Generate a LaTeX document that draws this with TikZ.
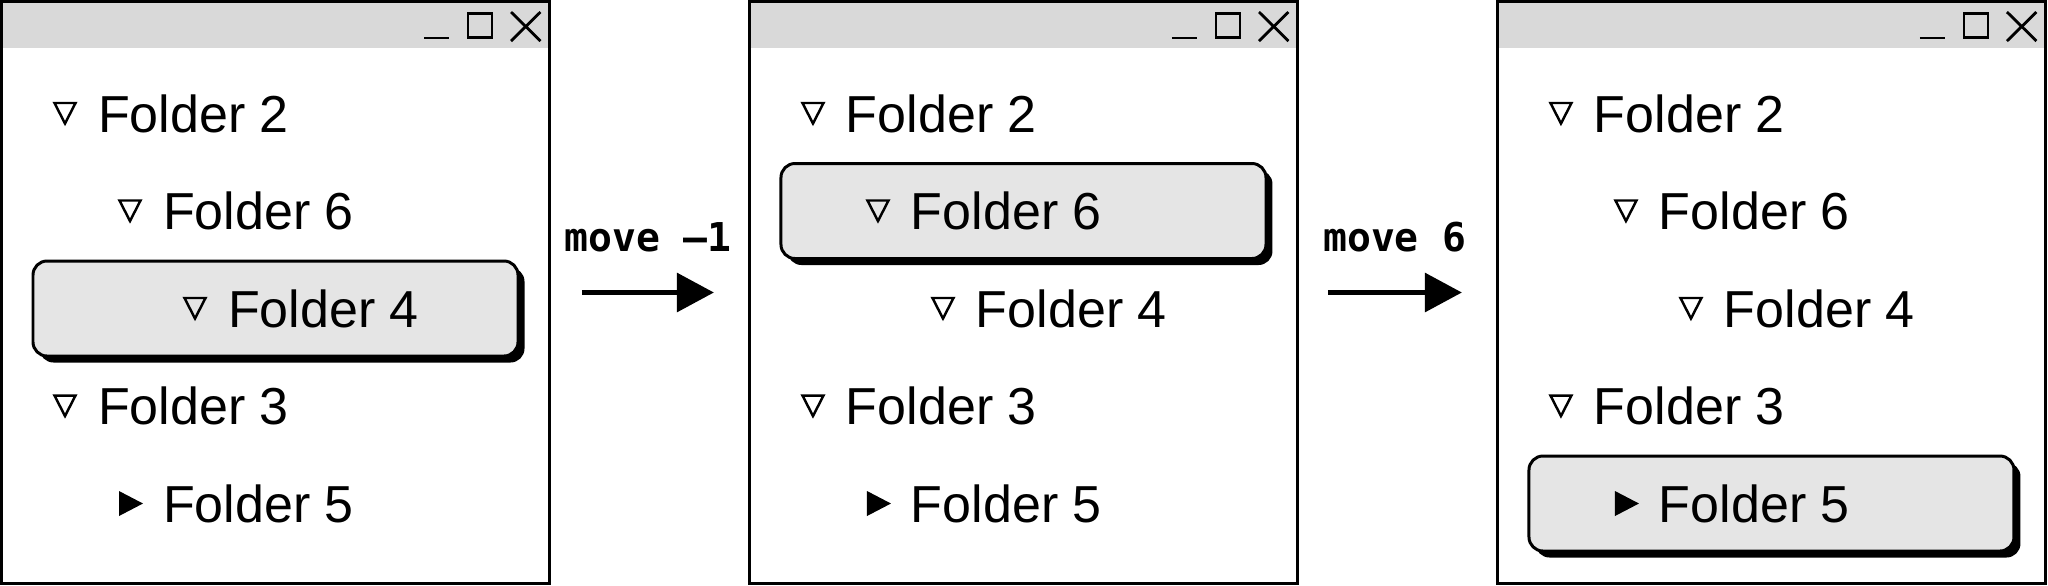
\documentclass[tikz,border=0pt]{standalone}
\usepackage{fontspec}
\setmainfont{Liberation Sans}
\setmonofont{DejaVu Sans Mono}
\usepackage{tikz}
\usetikzlibrary{positioning, arrows.meta, shadows, backgrounds}
\definecolor{barfill}{HTML}{D9D9D9}
\definecolor{selfill}{HTML}{E5E5E5}
\tikzstyle{window} = [rectangle, draw=black, line width=0.85pt, minimum width=5.48cm, minimum height=5.82cm, inner sep=0pt,
  path picture={
    \fill[barfill] (path picture bounding box.north west) rectangle ([yshift=-0.465cm]path picture bounding box.north east);
    \draw[line width=0.8pt] ([shift={(-1.255,-0.365)}]path picture bounding box.north east) -- ([shift={(-1.005,-0.365)}]path picture bounding box.north east);
    \draw[line width=0.8pt] ([shift={(-0.815,-0.12)}]path picture bounding box.north east) rectangle ([shift={(-0.575,-0.36)}]path picture bounding box.north east);
    \draw[line width=0.8pt] ([shift={(-0.385,-0.105)}]path picture bounding box.north east) -- ([shift={(-0.09,-0.395)}]path picture bounding box.north east)
      ([shift={(-0.385,-0.395)}]path picture bounding box.north east) -- ([shift={(-0.09,-0.105)}]path picture bounding box.north east);}]
\tikzstyle{item} = [anchor=west, inner sep=0pt, outer sep=0pt, font=\fontsize{14.8pt}{17pt}\selectfont]
\tikzstyle{selected} = [rectangle, rounded corners=0.14cm, draw=black, line width=0.85pt, fill=selfill, minimum width=4.85cm, minimum height=0.95cm, drop shadow={shadow xshift=0.065cm, shadow yshift=-0.065cm, fill=black, opacity=1}]
\tikzstyle{cmd} = [inner sep=0pt, font=\ttfamily\bfseries\fontsize{11.3pt}{13pt}\selectfont]
\tikzstyle{arrow} = [line width=1.7pt, -{Triangle[length=0.37cm, width=0.38cm]}]
\tikzset{
  open/.pic={\draw[line width=0.7pt, line join=miter] (-0.105,0.105) -- (0.105,0.105) -- (0,-0.1) -- cycle;},
  shut/.pic={\fill (-0.11,0.125) -- (0.13,0) -- (-0.11,-0.125) -- cycle;}
}

\begin{document}
\begin{tikzpicture}
\useasboundingbox (0,0) rectangle (20.48,-5.85);

% before
\node (win1) [window] at (2.755,-2.925) {};
\node (p2) [below right=1.135cm and 0.98cm of win1.north west, item] {Folder 2};
\node (p6) [below right=0.975cm and 0.65cm of p2.west, item] {Folder 6};
\node (p4) [below right=0.975cm and 0.65cm of p6.west, item] {Folder 4};
\node (p3) [below left=0.975cm and 1.3cm of p4.west, item] {Folder 3};
\node (p5) [below right=0.975cm and 0.65cm of p3.west, item] {Folder 5};
\pic at ([xshift=-0.33cm]p2.west) {open};
\pic at ([xshift=-0.33cm]p6.west) {open};
\pic at ([xshift=-0.33cm]p4.west) {open};
\pic at ([xshift=-0.33cm]p3.west) {open};
\pic at ([xshift=-0.33cm]p5.west) {shut};

% after move -1
\node (win2) [window, right=1.97cm of win1] {};
\node (q2) [below right=1.135cm and 0.98cm of win2.north west, item] {Folder 2};
\node (q6) [below right=0.975cm and 0.65cm of q2.west, item] {Folder 6};
\node (q4) [below right=0.975cm and 0.65cm of q6.west, item] {Folder 4};
\node (q3) [below left=0.975cm and 1.3cm of q4.west, item] {Folder 3};
\node (q5) [below right=0.975cm and 0.65cm of q3.west, item] {Folder 5};
\pic at ([xshift=-0.33cm]q2.west) {open};
\pic at ([xshift=-0.33cm]q6.west) {open};
\pic at ([xshift=-0.33cm]q4.west) {open};
\pic at ([xshift=-0.33cm]q3.west) {open};
\pic at ([xshift=-0.33cm]q5.west) {shut};

% after move 6
\node (win3) [window, right=1.97cm of win2] {};
\node (r2) [below right=1.135cm and 0.98cm of win3.north west, item] {Folder 2};
\node (r6) [below right=0.975cm and 0.65cm of r2.west, item] {Folder 6};
\node (r4) [below right=0.975cm and 0.65cm of r6.west, item] {Folder 4};
\node (r3) [below left=0.975cm and 1.3cm of r4.west, item] {Folder 3};
\node (r5) [below right=0.975cm and 0.65cm of r3.west, item] {Folder 5};
\pic at ([xshift=-0.33cm]r2.west) {open};
\pic at ([xshift=-0.33cm]r6.west) {open};
\pic at ([xshift=-0.33cm]r4.west) {open};
\pic at ([xshift=-0.33cm]r3.west) {open};
\pic at ([xshift=-0.33cm]r5.west) {shut};

% selection
\begin{scope}[on background layer]
\node (s1) [selected] at (win1.center |- p4.west) {};
\node (s2) [selected] at (win2.center |- q6.west) {};
\node (s3) [selected] at (win3.center |- r5.west) {};
\end{scope}

\draw [arrow] ([xshift=0.31cm]win1.east) -- node[cmd, above=0.37cm] (mv1) {move –1} ([xshift=-0.34cm]win2.west);
\draw [arrow] ([xshift=0.29cm]win2.east) -- node[cmd, above=0.37cm] (mv2) {move 6} ([xshift=-0.34cm]win3.west);
\end{tikzpicture}
\end{document}
